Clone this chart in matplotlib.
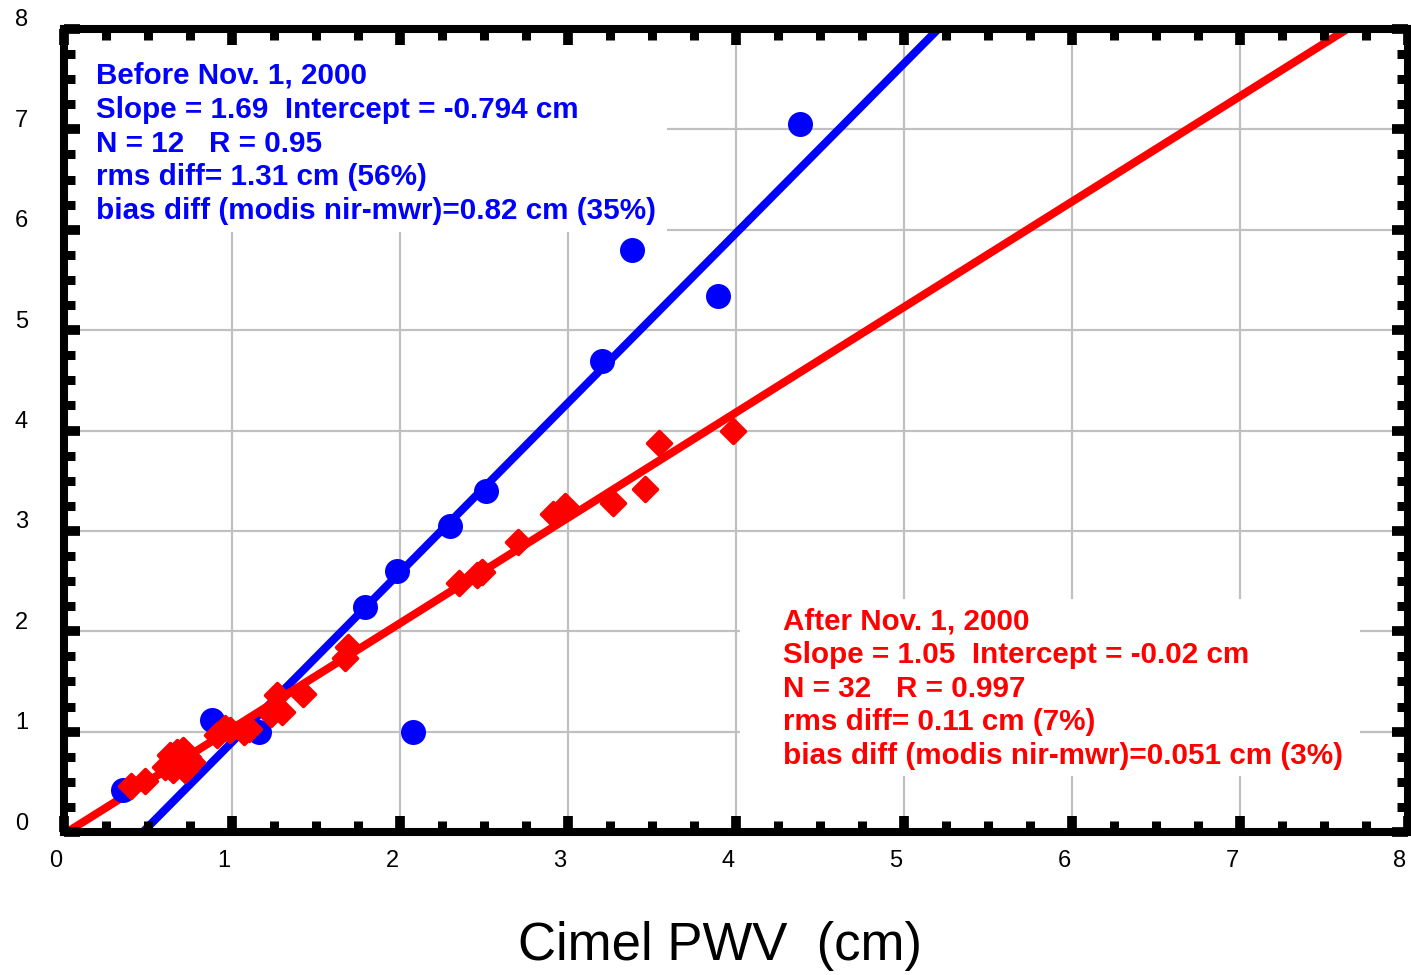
import matplotlib
matplotlib.use("Agg")
import matplotlib.pyplot as plt
import matplotlib.transforms as mtransforms
from matplotlib.patches import Rectangle
from matplotlib.markers import MarkerStyle
import numpy as np

# ---------------- data ----------------
before_x = [0.35, 0.88, 1.16, 1.79, 1.98, 2.30, 2.51, 3.20, 3.38, 3.89, 4.38, 2.08]
before_y = [0.42, 1.12, 1.00, 2.24, 2.60, 3.05, 3.40, 4.69, 5.80, 5.34, 7.05, 1.00]

after_x = [0.40, 0.48, 0.60, 0.63, 0.65, 0.67, 0.70, 0.71, 0.72, 0.74, 0.76,
           0.91, 0.96, 0.99, 1.07, 1.10, 1.23, 1.27, 1.30, 1.42, 1.67, 1.69,
           2.35, 2.46, 2.49, 2.70, 2.91, 2.98, 3.27, 3.46, 3.54, 3.98]
after_y = [0.46, 0.51, 0.65, 0.77, 0.62, 0.80, 0.67, 0.82, 0.62, 0.75, 0.70,
           0.97, 1.04, 1.02, 1.00, 1.03, 1.18, 1.36, 1.20, 1.37, 1.73, 1.84,
           2.48, 2.56, 2.59, 2.89, 3.17, 3.25, 3.28, 3.42, 3.88, 4.00]

before_fit = (1.69, -0.794)   # slope, intercept
after_fit = (1.05, -0.02)

before_text = ["Before Nov. 1, 2000",
               "Slope = 1.69  Intercept = -0.794 cm",
               "N = 12   R = 0.95",
               "rms diff= 1.31 cm (56%)",
               "bias diff (modis nir-mwr)=0.82 cm (35%)"]
after_text = ["After Nov. 1, 2000",
              "Slope = 1.05  Intercept = -0.02 cm",
              "N = 32   R = 0.997",
              "rms diff= 0.11 cm (7%)",
              "bias diff (modis nir-mwr)=0.051 cm (3%)"]

ticks = [0, 1, 2, 3, 4, 5, 6, 7, 8]
xlabel = "Cimel PWV  (cm)"

# ---------------- figure ----------------
W, H = 1411, 975
fig = plt.figure(figsize=(W / 100, H / 100), dpi=100)
plt.rcParams['font.family'] = ['Liberation Sans', 'DejaVu Sans']

x0p, x1p, y0p, y1p = 64, 1408, 832, 29
ax = fig.add_axes([x0p / W, 1 - y0p / H, (x1p - x0p) / W, (y0p - y1p) / H])
ax.set_xlim(0, 8)
ax.set_ylim(0, 8)

ax.set_xticks(ticks)
ax.set_yticks(ticks)
ax.set_xticks(np.arange(0, 8.01, 0.25), minor=True)
ax.set_yticks(np.arange(0, 8.01, 0.25), minor=True)

# grid (drawn manually so that white text boxes can hide it while ticks stay on top)
for t in ticks[1:-1]:
    ax.axvline(t, color='#c0c0c0', lw=1.6, zorder=0.2)
    ax.axhline(t, color='#c0c0c0', lw=1.6, zorder=0.2)

# white boxes behind the annotation text
ax.add_patch(Rectangle((0.003, 0.7475), 0.446, 0.25, transform=ax.transAxes,
                       facecolor='white', edgecolor='none', zorder=1))
ax.add_patch(Rectangle((0.503, 0.0697), 0.461, 0.221, transform=ax.transAxes,
                       facecolor='white', edgecolor='none', zorder=1))

# fit lines
xx = np.array([0.0, 8.0])
ax.plot(xx, before_fit[0] * xx + before_fit[1], color='#0000ff', lw=5.8,
        zorder=3, solid_capstyle='butt')
ax.plot(xx, after_fit[0] * xx + after_fit[1], color='#ff0000', lw=5.8,
        zorder=3.5, solid_capstyle='butt')

# points
ax.plot(before_x, before_y, 'o', color='#0000ff', ms=18, markeredgewidth=0,
        zorder=4, clip_on=False)
ax.plot(after_x, after_y, linestyle='none',
        marker=MarkerStyle('D', joinstyle='round'), color='#ff0000', ms=12,
        markeredgecolor='#ff0000', markeredgewidth=2.5, zorder=5)

# frame & ticks
ax.xaxis.set_zorder(6)
ax.yaxis.set_zorder(6)
for s in ax.spines.values():
    s.set_linewidth(5.8)
    s.set_color('black')
    s.set_zorder(7)
ax.tick_params(which='major', direction='in', length=11.5, width=7,
               top=True, right=True, colors='black', labelsize=17)
ax.tick_params(which='minor', direction='in', length=8, width=6.5,
               top=True, right=True, colors='black')
ax.tick_params(axis='x', which='major', pad=13)
ax.tick_params(axis='y', which='major', pad=26)

ax.set_xticklabels([str(t) for t in ticks])
ax.set_yticklabels([str(t) for t in ticks])
offx = mtransforms.ScaledTranslation(-8 / 100, 0, fig.dpi_scale_trans)
offy = mtransforms.ScaledTranslation(0, 11 / 100, fig.dpi_scale_trans)
for lab in ax.get_xticklabels():
    lab.set_fontsize(17)
    lab.set_transform(lab.get_transform() + offx)
for lab in ax.get_yticklabels():
    lab.set_fontsize(17)
    lab.set_transform(lab.get_transform() + offy)

# annotation text
def px(x, y):
    return x / W, 1 - y / H

for i, s in enumerate(before_text):
    fx, fy = px(96, 84 + 33.8 * i)
    fig.text(fx, fy, s, color='#0000ff', fontsize=21.3, fontweight='bold',
             ha='left', va='baseline', zorder=10)
for i, s in enumerate(after_text):
    fx, fy = px(783, 629 + 33.8 * i)
    fig.text(fx, fy, s, color='#ff0000', fontsize=21.3, fontweight='bold',
             ha='left', va='baseline', zorder=10)

fx, fy = px(720, 946)
fig.text(fx, fy, xlabel, fontsize=38, ha='center', va='center', color='black')

fig.savefig('out.png', dpi=100, facecolor='white')
